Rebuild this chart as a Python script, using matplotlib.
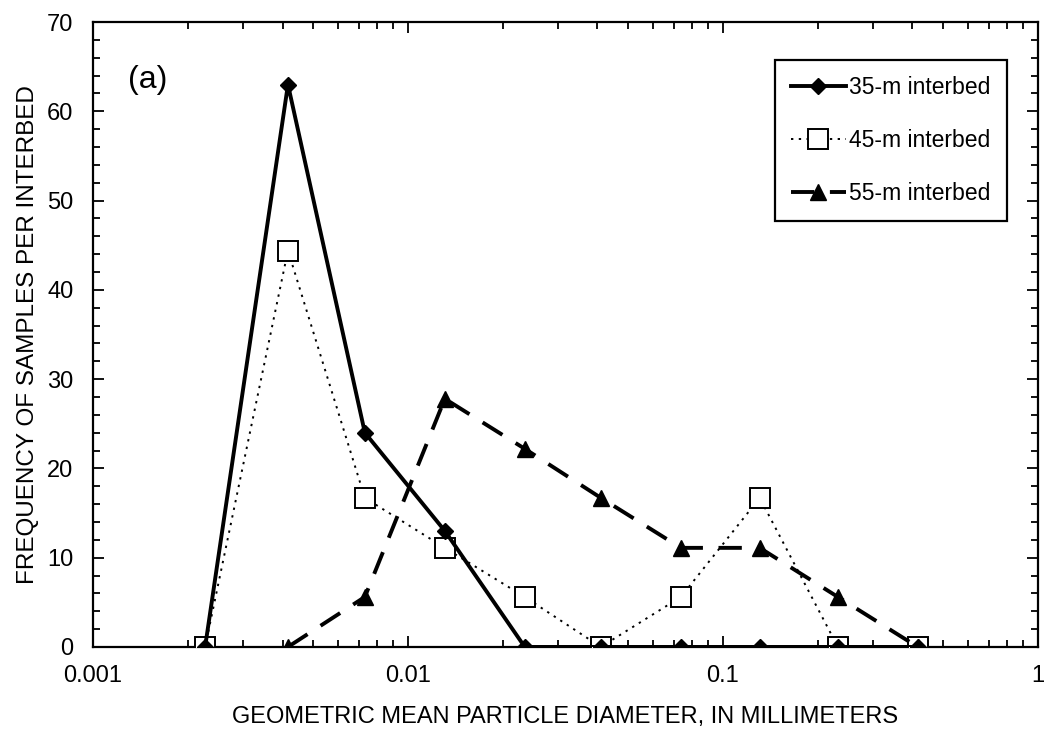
import matplotlib
matplotlib.use("Agg")
import matplotlib.pyplot as plt
from matplotlib.ticker import FixedLocator, NullFormatter, LogLocator

plt.rcParams['font.family'] = ['Liberation Sans', 'DejaVu Sans']

diam = [0.00227, 0.00416, 0.0073, 0.0131, 0.0235, 0.041, 0.0736, 0.131, 0.232, 0.416]
freq_35 = [0, 63, 24, 13, 0, 0, 0, 0, 0, 0]
freq_45 = [0, 44.4, 16.7, 11.1, 5.6, 0, 5.6, 16.7, 0, 0]
diam_55 = diam[1:]
freq_55 = [0, 5.6, 27.8, 22.2, 16.7, 11.1, 11.1, 5.6, 0]

fig = plt.figure(figsize=(10.45, 7.36), dpi=100)
ax = fig.add_axes([0.089, 0.121, 0.904, 0.849])

ax.plot(diam, freq_35, color='black', lw=2.8, marker='D', ms=8,
        label='35-m interbed', zorder=4)
ax.plot(diam, freq_45, color='black', lw=1.4, ls=(0, (1.2, 2.8)), marker='s', ms=14,
        mfc='white', mec='black', mew=1.4, label='45-m interbed', zorder=3)
ax.plot(diam_55, freq_55, color='black', lw=2.8, ls=(0, (6, 4)), marker='^', ms=12,
        label='55-m interbed', zorder=3)

ax.set_xscale('log')
ax.set_xlim(0.001, 1)
ax.set_ylim(0, 70)
ax.set_xticks([0.001, 0.01, 0.1, 1])
ax.set_xticklabels(['0.001', '0.01', '0.1', '1'])
ax.xaxis.set_minor_locator(LogLocator(base=10, subs=range(2, 10)))
ax.xaxis.set_minor_formatter(NullFormatter())
ax.set_yticks(range(0, 71, 10))
ax.yaxis.set_minor_locator(FixedLocator([v for v in range(0, 71, 2)]))

ax.tick_params(which='both', direction='in', top=True, right=True, labelsize=17,
               width=1.3, color='black')
ax.tick_params(which='major', length=8)
ax.tick_params(axis='x', which='major', pad=13)
ax.tick_params(axis='y', which='major', pad=14)
ax.tick_params(which='minor', length=5)
for s in ax.spines.values():
    s.set_linewidth(1.6)

ax.set_xlabel('GEOMETRIC MEAN PARTICLE DIAMETER, IN MILLIMETERS', fontsize=17, labelpad=14)
ax.set_ylabel('FREQUENCY OF SAMPLES PER INTERBED', fontsize=17.5, labelpad=6)

ax.text(0.037, 0.932, '(a)', transform=ax.transAxes, fontsize=23, va='top')

leg = ax.legend(loc='upper right', bbox_to_anchor=(0.967, 0.939), borderaxespad=0,
                fontsize=16.5, frameon=True, fancybox=False, edgecolor='black',
                handlelength=2.4, labelspacing=1.3, borderpad=0.7, handletextpad=0.15,
                framealpha=1)
leg.get_frame().set_linewidth(1.6)

fig.savefig('out.png', dpi=100)
